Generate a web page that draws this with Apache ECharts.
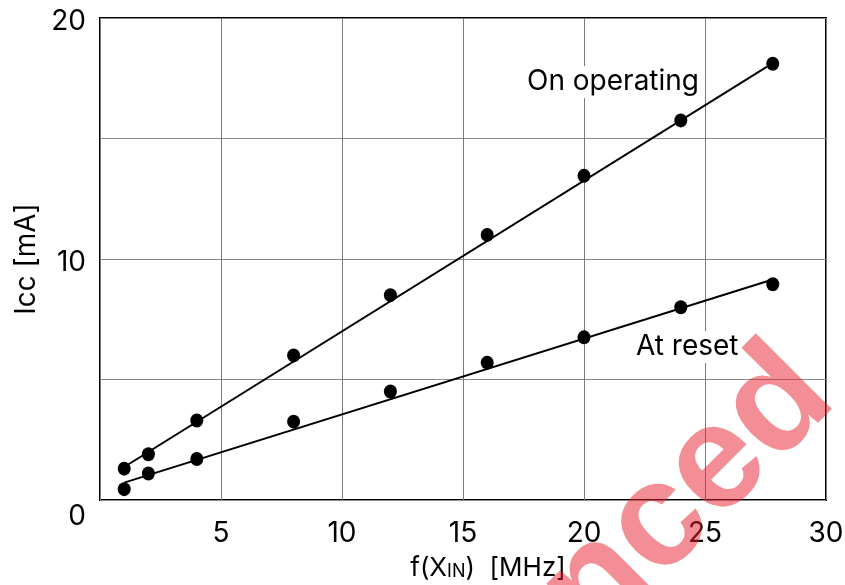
<!DOCTYPE html>
<html>
<head>
<meta charset="utf-8">
<script src="https://cdn.jsdelivr.net/npm/echarts/dist/echarts.min.js"></script>
<style>
  html, body { margin: 0; padding: 0; background: #fff; }
  #chart { width: 845px; height: 585px; }
</style>
</head>
<body>
<div id="chart"></div>
<script>
// Supply current vs. input clock frequency
const freq = [1, 2, 4, 8, 12, 16, 20, 24, 27.8];
const iccOperating = [1.3, 1.9, 3.3, 6.0, 8.5, 11.0, 13.45, 15.75, 18.1];
const iccReset = [0.45, 1.1, 1.7, 3.25, 4.5, 5.7, 6.75, 8.0, 8.95];

// Fitted trend lines (end points)
const fitOperatingX = [1, 27.6];
const fitOperatingY = [1.37, 18.0];
const fitResetX = [1, 27.8];
const fitResetY = [0.72, 9.15];

const yTickLabels = ['0', '10', '20'];

const FONT = 'Inter, "DejaVu Sans", sans-serif';

const pairs = (xs, ys) => xs.map((x, i) => [x, ys[i]]);

const chart = echarts.init(document.getElementById('chart'), null, { renderer: 'canvas' });

chart.setOption({
  animation: false,
  backgroundColor: '#ffffff',
  grid: {
    left: 100, right: 19, top: 18, bottom: 85,
    outerBoundsMode: 'none', containLabel: false,
    show: true, borderColor: '#000', borderWidth: 2, backgroundColor: 'transparent'
  },
  xAxis: {
    type: 'value', min: 0, max: 30, interval: 5,
    axisLine: { show: false },
    axisTick: { show: false },
    splitLine: { show: true, lineStyle: { color: '#7a7a7a', width: 1 } },
    axisLabel: {
      margin: 20, color: '#000', fontFamily: FONT, fontSize: 28,
      formatter: v => (v === 0 ? '' : String(v))
    },
    name: '{a|f(X}{b|IN}{a|)  [MHz]}',
    nameLocation: 'middle',
    nameGap: 51,
    nameTextStyle: {
      padding: [0, 0, 0, 50],
      rich: {
        a: { fontFamily: FONT, fontSize: 26, color: '#000', verticalAlign: 'bottom', lineHeight: 30 },
        b: { fontFamily: FONT, fontSize: 18, color: '#000', verticalAlign: 'bottom', lineHeight: 28 }
      }
    }
  },
  yAxis: {
    type: 'value', min: 0, max: 20, interval: 5,
    axisLine: { show: false },
    axisTick: { show: false },
    splitLine: { show: true, lineStyle: { color: '#8a8a8a', width: 1 } },
    axisLabel: {
      margin: 14, color: '#000', fontFamily: FONT, fontSize: 28,
      formatter: v => {
        const s = String(v);
        if (!yTickLabels.includes(s)) return '';
        return v === 0 ? '{z|' + s + '}' : '{n|' + s + '}';
      },
      rich: {
        z: { fontFamily: FONT, fontSize: 28, color: '#000', padding: [34, 0, 0, 0] },
        n: { fontFamily: FONT, fontSize: 28, color: '#000', padding: [8, 0, 0, 0] }
      }
    },
    name: 'Icc [mA]',
    nameLocation: 'middle',
    nameGap: 58,
    nameRotate: 90,
    nameTextStyle: { fontFamily: FONT, fontSize: 28, color: '#000' }
  },
  series: [
    {
      name: 'On operating fit', type: 'line', data: pairs(fitOperatingX, fitOperatingY),
      symbol: 'none', lineStyle: { color: '#000', width: 2 }, z: 3, silent: true
    },
    {
      name: 'At reset fit', type: 'line', data: pairs(fitResetX, fitResetY),
      symbol: 'none', lineStyle: { color: '#000', width: 2 }, z: 3, silent: true
    },
    {
      name: 'On operating', type: 'scatter', data: pairs(freq, iccOperating),
      symbol: 'circle', symbolSize: [13, 14], itemStyle: { color: '#000', opacity: 1 }, z: 4
    },
    {
      name: 'At reset', type: 'scatter', data: pairs(freq, iccReset),
      symbol: 'circle', symbolSize: [13, 14], itemStyle: { color: '#000', opacity: 1 }, z: 4
    }
  ],
  graphic: [
    {
      type: 'text', left: 526, top: 66, z: 10,
      style: {
        text: 'On operating', font: '28px ' + FONT, fill: '#000',
        backgroundColor: '#fff', padding: [2, 1, 2, 1]
      }
    },
    {
      type: 'text', left: 635, top: 331, z: 10,
      style: {
        text: 'At reset', font: '28px ' + FONT, fill: '#000',
        backgroundColor: '#fff', padding: [2, 1, 2, 1]
      }
    },
    {
      type: 'text', x: 688, y: 495, rotation: Math.PI / 4, z: 20, silent: true,
      style: {
        text: 'nced', font: 'bold 148px "Liberation Sans", Arial, sans-serif',
        fill: 'rgba(232, 30, 45, 0.5)',
        align: 'center', verticalAlign: 'middle'
      }
    }
  ]
});
</script>
</body>
</html>
